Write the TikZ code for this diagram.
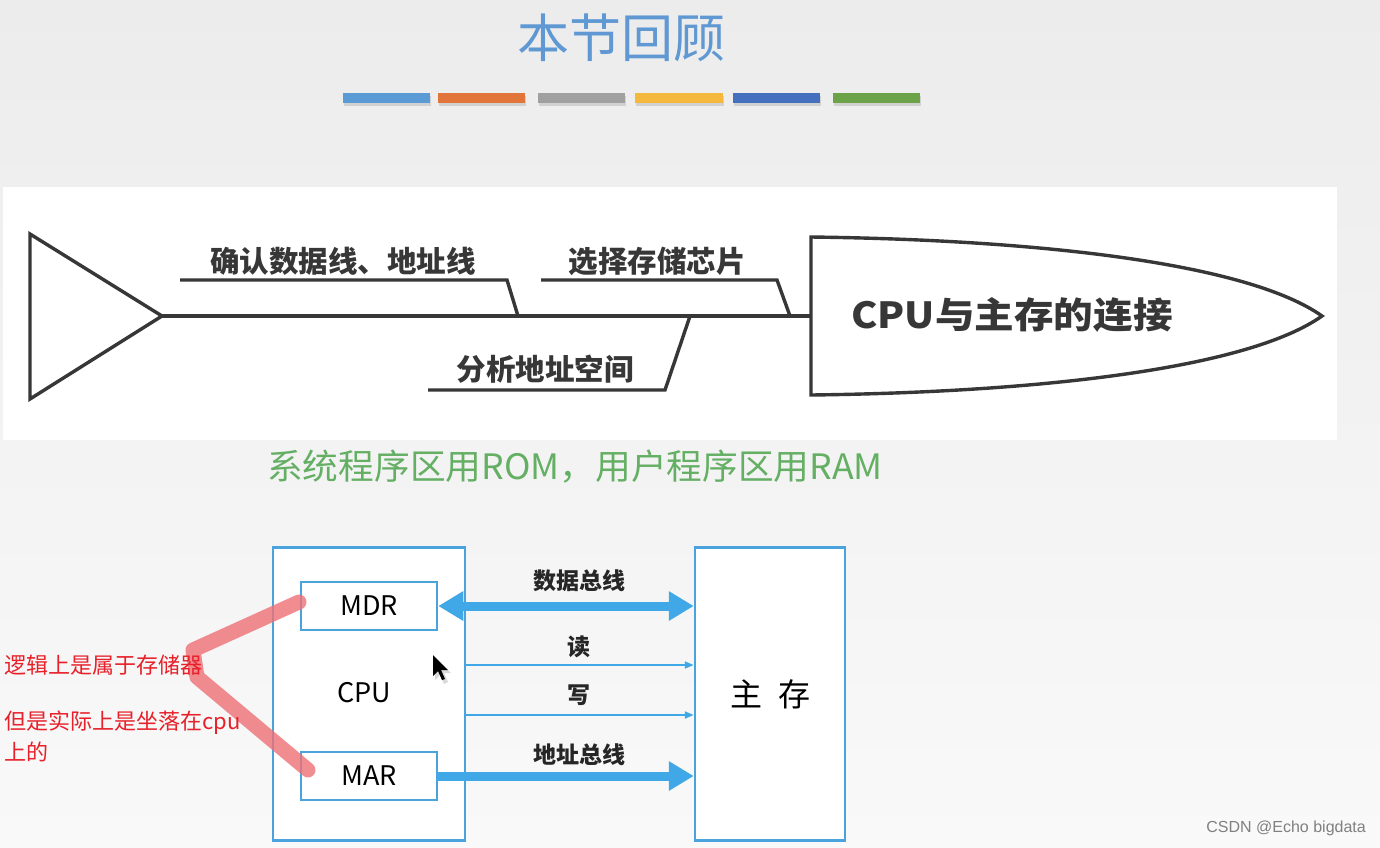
\documentclass[tikz,border=0pt]{standalone}
\usepackage{fontspec}
\setmainfont{Noto Sans CJK SC}
\newfontfamily\wmfont{Liberation Sans}
\usetikzlibrary{arrows.meta}
\definecolor{ttl}{RGB}{95,152,210}
\definecolor{barA}{RGB}{91,155,213}
\definecolor{barB}{RGB}{226,118,58}
\definecolor{barC}{RGB}{160,160,160}
\definecolor{barD}{RGB}{244,184,60}
\definecolor{barE}{RGB}{68,112,190}
\definecolor{barF}{RGB}{108,162,72}
\definecolor{ink}{RGB}{55,55,55}
\definecolor{bl}{RGB}{74,163,220}
\definecolor{busc}{RGB}{64,168,230}
\definecolor{grn}{RGB}{100,175,100}
\definecolor{redt}{RGB}{232,32,42}
\definecolor{hl}{RGB}{238,112,118}
\definecolor{bgtop}{RGB}{236,236,236}
\definecolor{bgbot}{RGB}{249,249,249}
\begin{document}
\begin{tikzpicture}[x=1pt,y=-1pt,
  bone/.style={draw=ink,line width=3.4pt,line join=miter},
  bonelbl/.style={text=ink,font=\bfseries\fontsize{29.5}{29.5}\selectfont,inner sep=0},
  bluebox/.style={draw=bl,line width=2.5pt,fill=white},
  reg/.style={bluebox,minimum width=136pt,minimum height=48pt,inner sep=0,font=\fontsize{27}{27}\selectfont},
  buslbl/.style={text=black!85,font=\bfseries\fontsize{23}{23}\selectfont,inner sep=0},
  bigbus/.style={draw=busc,line width=9pt},
  thinbus/.style={draw=busc,line width=2pt,-{Triangle[length=9pt,width=7pt]}},
  redlbl/.style={text=redt,font=\fontsize{22}{22}\selectfont,inner sep=0,anchor=west}
]
\useasboundingbox (0,0) rectangle (1380,847);
% background
\shade[top color=bgtop,bottom color=bgbot] (0,0) rectangle (1380,847);
\fill[white] (3,187) rectangle (1337,440);

% title
\node[text=ttl,font=\fontsize{52}{52}\selectfont,inner sep=0] (title) at (621,38) {本节回顾};

% colour bars with shadow
\foreach \a/\b/\c in {343/430/barA,438/525/barB,538/625/barC,635/723/barD,733/820/barE,833/920/barF}{
  \fill[black,opacity=0.12] (\a+1,96) rectangle (\b+1,106);
  \fill[\c] (\a,93) rectangle (\b,103);
}

% fishbone
\draw[bone] (30,234) -- (30,399) -- (162,316) -- cycle;
\coordinate (tail) at (162,316);
\coordinate (headL) at (811,316);
\draw[bone] (tail) -- (headL);
\draw[bone] (180,280) -- (507,280) -- (518,316);
\draw[bone] (541,280) -- (777,280) -- (790,316);
\draw[bone] (428,390) -- (665,390) -- (690,316);
\draw[bone] (811,237) .. controls (1050,240) and (1250,265) .. (1322,316)
  .. controls (1250,367) and (1050,392) .. (811,395) -- cycle;
\node[bonelbl] (l1) at (343,261) {确认数据线、地址线};
\node[bonelbl] (l2) at (657,261) {选择存储芯片};
\node[bonelbl] (l3) at (545,369) {分析地址空间};
\node[text=ink,font=\bfseries\fontsize{36}{36}\selectfont,inner sep=0,xscale=1.1] (head) at (1012,315) {CPU与主存的连接};

% green note
\node[text=grn,font=\fontsize{35}{35}\selectfont,inner sep=0,xscale=1.02] (note) at (575,467) {系统程序区用ROM，用户程序区用RAM};

% CPU / memory diagram
\node[bluebox,minimum width=192pt,minimum height=293pt,inner sep=0] (cpu) at (369,694) {};
\node[bluebox,minimum width=150pt,minimum height=293pt,inner sep=0,font=\fontsize{32}{32}\selectfont] (mem) at (770,694) {主\hspace{0.5em}存};
\node[reg] (mdr) at (369,606) {MDR};
\node[reg] (mar) at (369,776) {MAR};
\node[font=\fontsize{27}{27}\selectfont,inner sep=0] (cpulbl) at (364,693) {CPU};

\draw[bigbus,{Triangle[length=25pt,width=28pt]}-{Triangle[length=25pt,width=28pt]}] (mdr.east) -- (mdr.east -| mem.west);
\draw[bigbus,-{Triangle[length=25pt,width=28pt]}] (mar.east) -- (mar.east -| mem.west);
\coordinate (rd) at (466,665);
\coordinate (wr) at (466,715);
\draw[thinbus] (rd) -- (rd -| mem.west);
\draw[thinbus] (wr) -- (wr -| mem.west);
\node[buslbl] (dbl) at (579,581) {数据总线};
\node[buslbl] (rdl) at (579,647) {读};
\node[buslbl] (wrl) at (579,695) {写};
\node[buslbl] (abl) at (579,755) {地址总线};

% mouse cursor
\fill[black,opacity=0.15] (435,658) -- (435,680) -- (440,675) -- (444,684) -- (448,682) -- (444,673) -- (451,673) -- cycle;
\fill[black] (433,655) -- (433,676) -- (438,671) -- (442,680) -- (445,679) -- (441,670) -- (448,670) -- cycle;

% highlighter stroke
\draw[hl,opacity=0.8,line width=15pt,line cap=round,line join=round]
  (299,602) -- (193,650) -- (197,677) -- (308,770);

% red annotation
\node[redlbl] (n1) at (4,665) {逻辑上是属于存储器};
\node[redlbl] (n2) at (4,723) {但是实际上是坐落在cpu};
\node[redlbl] (n3) at (4,752) {上的};

% watermark
\node[text=black!50,font=\wmfont\fontsize{16}{16}\selectfont,inner sep=0,anchor=east] (wm) at (1366,828) {CSDN @Echo bigdata};
\end{tikzpicture}
\end{document}
